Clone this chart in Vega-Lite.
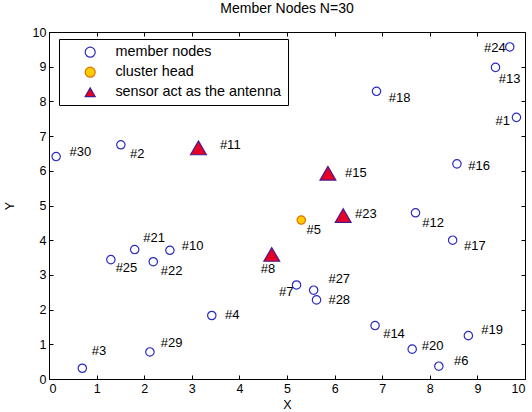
{
  "$schema": "https://vega.github.io/schema/vega-lite/v6.json",
  "width": 476,
  "height": 347,
  "autosize": "none",
  "padding": {"left": 49, "top": 32, "right": 7, "bottom": 33},
  "background": "white",
  "title": {"text": "Member Nodes N=30", "font": "Liberation Sans", "fontSize": 14, "fontWeight": "normal", "color": "#000", "offset": 10},
  "config": {
    "view": {"stroke": "#000", "strokeWidth": 1},
    "font": "Liberation Sans",
    "legend": {"title": null, "orient": "none", "legendX": 10, "legendY": 7, "strokeColor": "#000", "padding": 6, "symbolOffset": 18, "labelOffset": 18, "labelLimit": 400, "labelFontSize": 14.4, "labelFont": "Liberation Sans", "labelColor": "#000", "rowPadding": 4, "fillColor": "white", "cornerRadius": 0, "symbolStrokeWidth": 1.2},
    "axis": {"grid": false, "domain": false, "tickColor": "#000", "tickSize": -4, "labelFont": "Liberation Sans", "labelFontSize": 12.5, "labelColor": "#000", "titleFont": "Liberation Sans", "titleFontSize": 12.5, "titleFontWeight": "normal", "titleColor": "#000"}
  },
  "data": {"values": [
    {"id": 1, "x": 9.82, "y": 7.54, "type": "member nodes", "label": "#1", "lx": 9.38, "ly": 7.43},
    {"id": 2, "x": 1.51, "y": 6.75, "type": "member nodes", "label": "#2", "lx": 1.7, "ly": 6.48},
    {"id": 3, "x": 0.7, "y": 0.31, "type": "member nodes", "label": "#3", "lx": 0.9, "ly": 0.8},
    {"id": 4, "x": 3.42, "y": 1.83, "type": "member nodes", "label": "#4", "lx": 3.7, "ly": 1.85},
    {"id": 5, "x": 5.3, "y": 4.58, "type": "cluster head", "label": "#5", "lx": 5.41, "ly": 4.3},
    {"id": 6, "x": 8.19, "y": 0.37, "type": "member nodes", "label": "#6", "lx": 8.51, "ly": 0.51},
    {"id": 7, "x": 5.2, "y": 2.71, "type": "member nodes", "label": "#7", "lx": 4.83, "ly": 2.5},
    {"id": 8, "x": 4.68, "y": 3.59, "type": "sensor act as the antenna", "label": "#8", "lx": 4.45, "ly": 3.17},
    {"id": 10, "x": 2.54, "y": 3.71, "type": "member nodes", "label": "#10", "lx": 2.79, "ly": 3.82},
    {"id": 11, "x": 3.14, "y": 6.66, "type": "sensor act as the antenna", "label": "#11", "lx": 3.59, "ly": 6.73},
    {"id": 12, "x": 7.7, "y": 4.79, "type": "member nodes", "label": "#12", "lx": 7.84, "ly": 4.49},
    {"id": 13, "x": 9.38, "y": 8.98, "type": "member nodes", "label": "#13", "lx": 9.45, "ly": 8.65},
    {"id": 14, "x": 6.85, "y": 1.54, "type": "member nodes", "label": "#14", "lx": 7.02, "ly": 1.31},
    {"id": 15, "x": 5.86, "y": 5.93, "type": "sensor act as the antenna", "label": "#15", "lx": 6.22, "ly": 5.93},
    {"id": 16, "x": 8.57, "y": 6.2, "type": "member nodes", "label": "#16", "lx": 8.81, "ly": 6.13},
    {"id": 17, "x": 8.48, "y": 4.0, "type": "member nodes", "label": "#17", "lx": 8.72, "ly": 3.82},
    {"id": 18, "x": 6.88, "y": 8.29, "type": "member nodes", "label": "#18", "lx": 7.14, "ly": 8.11},
    {"id": 19, "x": 8.81, "y": 1.25, "type": "member nodes", "label": "#19", "lx": 9.08, "ly": 1.42},
    {"id": 20, "x": 7.63, "y": 0.86, "type": "member nodes", "label": "#20", "lx": 7.83, "ly": 0.96},
    {"id": 21, "x": 1.8, "y": 3.73, "type": "member nodes", "label": "#21", "lx": 1.98, "ly": 4.07},
    {"id": 22, "x": 2.19, "y": 3.38, "type": "member nodes", "label": "#22", "lx": 2.35, "ly": 3.11},
    {"id": 23, "x": 6.18, "y": 4.71, "type": "sensor act as the antenna", "label": "#23", "lx": 6.43, "ly": 4.75},
    {"id": 24, "x": 9.68, "y": 9.57, "type": "member nodes", "label": "#24", "lx": 9.14, "ly": 9.55},
    {"id": 25, "x": 1.3, "y": 3.44, "type": "member nodes", "label": "#25", "lx": 1.4, "ly": 3.2},
    {"id": 27, "x": 5.56, "y": 2.56, "type": "member nodes", "label": "#27", "lx": 5.87, "ly": 2.89},
    {"id": 28, "x": 5.62, "y": 2.28, "type": "member nodes", "label": "#28", "lx": 5.87, "ly": 2.28},
    {"id": 29, "x": 2.12, "y": 0.78, "type": "member nodes", "label": "#29", "lx": 2.35, "ly": 1.04},
    {"id": 30, "x": 0.15, "y": 6.41, "type": "member nodes", "label": "#30", "lx": 0.43, "ly": 6.53}
  ]},
  "layer": [
    {
      "mark": {"type": "point", "filled": true, "strokeWidth": 1.2, "opacity": 1},
      "encoding": {
        "x": {"field": "x", "type": "quantitative", "scale": {"domain": [0, 10], "nice": false, "zero": false},
              "axis": {"orient": "bottom", "title": "X", "values": [0,1,2,3,4,5,6,7,8,9,10], "labelPadding": 7, "titlePadding": 4}},
        "y": {"field": "y", "type": "quantitative", "scale": {"domain": [0, 10], "nice": false, "zero": false},
              "axis": {"orient": "left", "title": "Y", "values": [0,1,2,3,4,5,6,7,8,9,10], "labelPadding": 7, "titlePadding": 16}},
        "shape": {"field": "type", "type": "nominal", "scale": {"domain": ["member nodes", "cluster head", "sensor act as the antenna"], "range": ["circle", "circle", "triangle-up"]},
                  "legend": {"encode": {"symbols": {"update": {"size": [{"test": "datum.value === 'sensor act as the antenna'", "value": 240}, {"value": 65}]}}}}},
        "fill": {"field": "type", "type": "nominal", "scale": {"domain": ["member nodes", "cluster head", "sensor act as the antenna"], "range": ["transparent", "#ffcc00", "#e60026"]},
                 "legend": {"encode": {"symbols": {"update": {"size": [{"test": "datum.value === 'sensor act as the antenna'", "value": 240}, {"value": 65}]}}}}},
        "stroke": {"field": "type", "type": "nominal", "scale": {"domain": ["member nodes", "cluster head", "sensor act as the antenna"], "range": ["#2b2bbf", "#e07000", "#4b1a8c"]},
                   "legend": {"encode": {"symbols": {"update": {"size": [{"test": "datum.value === 'sensor act as the antenna'", "value": 240}, {"value": 65}]}}}}},
        "size": {"condition": {"test": "datum.type === 'sensor act as the antenna'", "value": 250}, "value": 70}
      }
    },
    {
      "mark": {"type": "text", "align": "left", "baseline": "middle", "font": "Liberation Sans", "fontSize": 13, "color": "#000"},
      "encoding": {
        "x": {"field": "lx", "type": "quantitative", "scale": {"domain": [0, 10], "nice": false, "zero": false},
              "axis": {"orient": "top", "title": null, "labels": false, "values": [0,1,2,3,4,5,6,7,8,9,10]}},
        "y": {"field": "ly", "type": "quantitative", "scale": {"domain": [0, 10], "nice": false, "zero": false},
              "axis": {"orient": "right", "title": null, "labels": false, "values": [0,1,2,3,4,5,6,7,8,9,10]}},
        "text": {"field": "label"}
      }
    }
  ],
  "resolve": {"axis": {"x": "independent", "y": "independent"}}
}
